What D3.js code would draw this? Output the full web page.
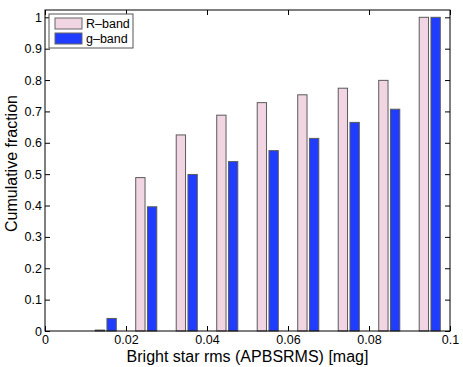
<!DOCTYPE html>
<html>
<head>
<meta charset="utf-8">
<script src="https://cdn.jsdelivr.net/npm/d3@7"></script>
<style>
  body { margin: 0; background: #fff; }
  text { font-family: "Liberation Sans", Arial, sans-serif; fill: #000; }
</style>
</head>
<body>
<div id="chart"></div>
<script>
// bin centres (mag) and cumulative fractions
var binCenters = [0.015, 0.025, 0.035, 0.045, 0.055, 0.065, 0.075, 0.085, 0.095];
var rBand = [0.003, 0.489, 0.625, 0.688, 0.728, 0.753, 0.774, 0.799, 1.0];
var gBand = [0.040, 0.396, 0.499, 0.540, 0.575, 0.614, 0.665, 0.707, 1.0];
var seriesNames = ["R\u2013band", "g\u2013band"];
var seriesColors = ["#f2d5e3", "#1f3cff"];
var xTicks = [0, 0.02, 0.04, 0.06, 0.08, 0.1];
var yTicks = [0, 0.1, 0.2, 0.3, 0.4, 0.5, 0.6, 0.7, 0.8, 0.9, 1];

var W = 463, H = 367;
var margin = { top: 10, right: 13, bottom: 36, left: 45 },
    width = W - margin.left - margin.right,
    height = H - margin.top - margin.bottom;

var svg = d3.select("#chart")
    .append("svg")
    .attr("width", W)
    .attr("height", H)
    .append("g")
    .attr("transform", "translate(" + margin.left + "," + margin.top + ")");

var x = d3.scaleLinear().domain([0, 0.1]).range([0, width]);
var y = d3.scaleLinear().domain([0, 1.0233]).range([height, 0]);

//Bars
var barW = 0.0023, offs = [-0.00145, 0.00145];
[rBand, gBand].forEach(function (vals, s) {
    svg.selectAll(".bar" + s)
        .data(binCenters.map(function (c, i) { return [c, vals[i]]; }))
        .enter()
        .append("rect")
        .attr("x", function (d) { return x(d[0] + offs[s] - barW / 2); })
        .attr("y", function (d) { return y(d[1]); })
        .attr("width", x(barW) - x(0))
        .attr("height", function (d) { return y(0) - y(d[1]); })
        .attr("fill", seriesColors[s])
        .attr("stroke", "#5a5a5a")
        .attr("stroke-width", 1);
});

//Axes (MATLAB style: inward ticks, box)
var fmt = d3.format("~g");
svg.append("g")
    .attr("transform", "translate(0," + height + ")")
    .call(d3.axisBottom(x).tickValues(xTicks).tickFormat(fmt).tickSizeInner(-5).tickSizeOuter(0).tickPadding(4))
    .call(function (g) { g.select(".domain").remove(); });
svg.append("g")
    .call(d3.axisTop(x).tickValues(xTicks).tickFormat("").tickSizeInner(-5).tickSizeOuter(0))
    .call(function (g) { g.select(".domain").remove(); });
svg.append("g")
    .call(d3.axisLeft(y).tickValues(yTicks).tickFormat(fmt).tickSizeInner(-5).tickSizeOuter(0).tickPadding(3))
    .call(function (g) { g.select(".domain").remove(); });
svg.append("g")
    .attr("transform", "translate(" + width + ",0)")
    .call(d3.axisRight(y).tickValues(yTicks).tickFormat("").tickSizeInner(-5).tickSizeOuter(0))
    .call(function (g) { g.select(".domain").remove(); });
svg.selectAll(".tick text").style("font-size", "12.5px").style("font-family", "Liberation Sans, Arial, sans-serif");
svg.selectAll(".tick line").attr("stroke", "#000");

svg.append("rect")
    .attr("width", width).attr("height", height)
    .attr("fill", "none").attr("stroke", "#000").attr("stroke-width", 1);

//Legend
var leg = svg.append("g").attr("transform", "translate(4,4)");
leg.append("rect").attr("width", 84).attr("height", 34)
    .attr("fill", "#fff").attr("stroke", "#555");
seriesNames.forEach(function (n, i) {
    leg.append("rect")
        .attr("x", 6).attr("y", 4 + i * 15)
        .attr("width", 27).attr("height", 11)
        .attr("fill", seriesColors[i]).attr("stroke", "#666");
    leg.append("text")
        .attr("x", 37).attr("y", 14 + i * 15)
        .style("font-size", "12.5px")
        .text(n);
});

//Axis labels
svg.append("text")
    .attr("x", width / 2).attr("y", height + 31)
    .attr("text-anchor", "middle")
    .style("font-size", "16px")
    .text("Bright star rms (APBSRMS) [mag]");
svg.append("text")
    .attr("transform", "rotate(-90)")
    .attr("x", -height / 2 + 7).attr("y", -28)
    .attr("text-anchor", "middle")
    .style("font-size", "16px")
    .text("Cumulative fraction");
</script>
</body>
</html>
